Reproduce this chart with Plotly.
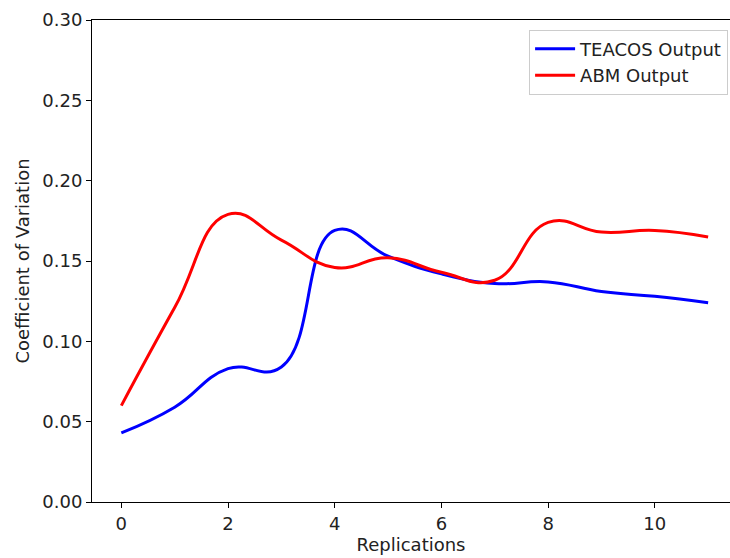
import plotly.graph_objects as go

replications = list(range(12))
teacos_cv = [0.043, 0.059, 0.083, 0.084, 0.169, 0.153, 0.142, 0.136, 0.137, 0.131, 0.128, 0.124]
abm_cv = [0.060, 0.121, 0.179, 0.163, 0.146, 0.152, 0.143, 0.138, 0.174, 0.168, 0.169, 0.165]

FONT = "DejaVu Sans"
FS = 18

fig = go.Figure()
fig.add_trace(go.Scatter(x=replications, y=teacos_cv, mode="lines", name="TEACOS Output",
                         line=dict(color="#0000ff", width=3, shape="spline", smoothing=1.3)))
fig.add_trace(go.Scatter(x=replications, y=abm_cv, mode="lines", name="ABM Output",
                         line=dict(color="#ff0000", width=3, shape="spline", smoothing=1.3)))

fig.update_layout(
    width=730, height=558,
    margin=dict(l=92, r=0, t=20, b=56),
    paper_bgcolor="white", plot_bgcolor="white",
    font=dict(family=FONT, size=FS, color="#222222"),
    showlegend=True,
    legend=dict(x=0.997, y=0.98, xanchor="right", yanchor="top",
                bordercolor="#cccccc", borderwidth=1, bgcolor="white",
                font=dict(family=FONT, size=FS, color="#222222"),
                itemwidth=40, tracegroupgap=2),
    xaxis=dict(range=[-0.55, 11.41], tickmode="array", tickvals=[0, 2, 4, 6, 8, 10],
               showgrid=False, zeroline=False, showline=True, linecolor="black", linewidth=1,
               mirror=True, ticks="outside", ticklen=5, tickcolor="black",
               tickfont=dict(size=FS),
               title=dict(text="Replications", standoff=4, font=dict(size=FS))),
    yaxis=dict(range=[0, 0.30], tickmode="array", tickvals=[0, 0.05, 0.10, 0.15, 0.20, 0.25, 0.30],
               tickformat=".2f", showgrid=False, zeroline=False, showline=True, linecolor="black",
               linewidth=1, ticks="outside", ticklen=5, tickcolor="black",
               tickfont=dict(size=FS),
               title=dict(text="Coefficient of Variation", standoff=8, font=dict(size=FS))),
)

fig.write_html("out.html")
